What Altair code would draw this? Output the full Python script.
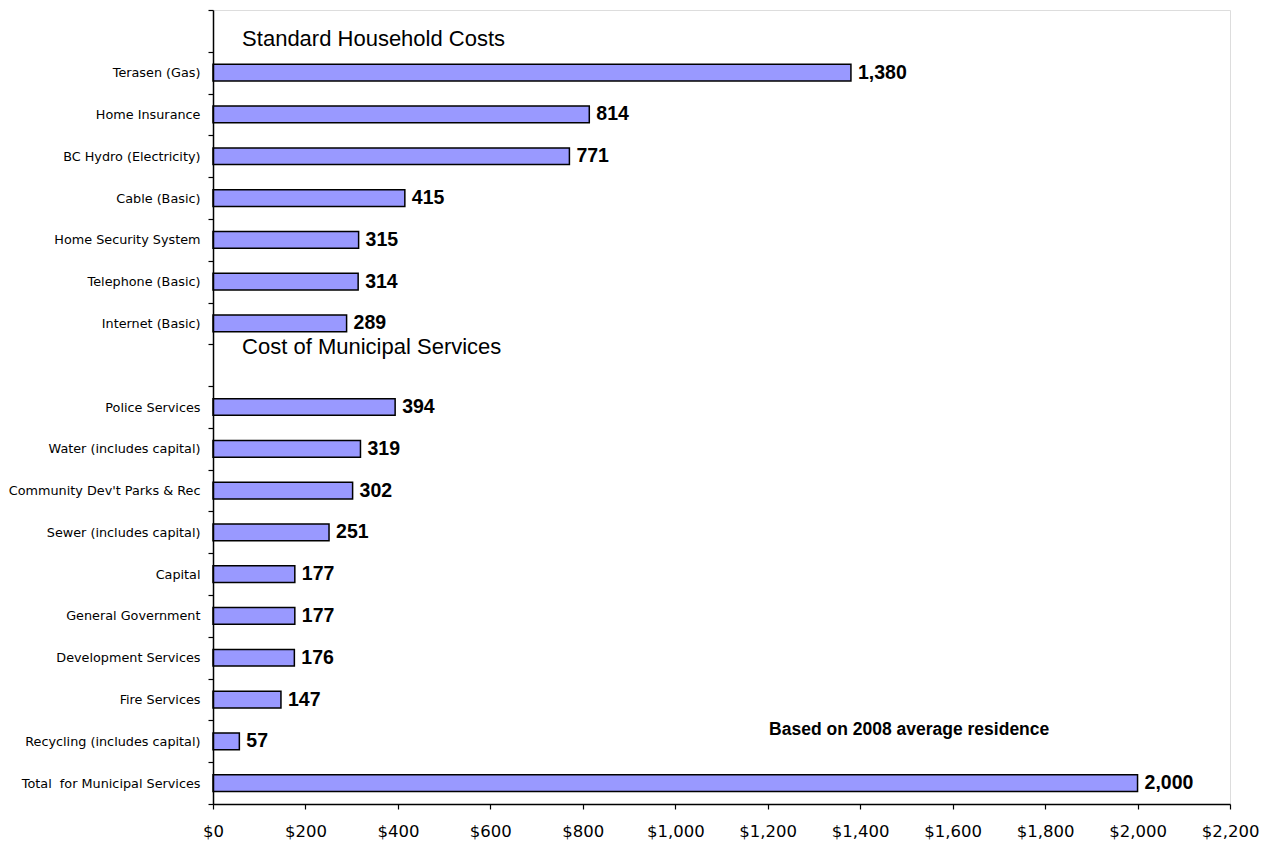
import altair as alt
import pandas as pd

categories = [" ", "Terasen (Gas)", "Home Insurance", "BC Hydro (Electricity)", "Cable (Basic)",
              "Home Security System", "Telephone (Basic)", "Internet (Basic)", "  ",
              "Police Services", "Water (includes capital)", "Community Dev't Parks & Rec",
              "Sewer (includes capital)", "Capital ", "General Government", "Development Services",
              "Fire Services", "Recycling (includes capital)", "Total\u00a0 for Municipal Services"]
values = [None, 1380, 814, 771, 415, 315, 314, 289, None,
          394, 319, 302, 251, 177, 177, 176, 147, 57, 2000]
labels = ["" if v is None else f"{v:,}" for v in values]

notes_text = ["Standard Household Costs", "Cost of Municipal Services", "Based on 2008 average residence"]
notes_cat = [" ", "  ", "Recycling (includes capital)"]
notes_x = [63, 63, 1203]
notes_dy = [8, -18, -11]
notes_size = [22, 22, 17.5]
notes_weight = ["normal", "normal", "bold"]

x_ticks = list(range(0, 2201, 200))

df = pd.DataFrame({"cat": categories, "val": values, "lab": labels})
bars_df = df.dropna()

yenc = alt.Y("cat:N", sort=categories, title=None,
             scale=alt.Scale(domain=categories, paddingInner=0, paddingOuter=0),
             axis=alt.Axis(tickBand="extent", domainColor="black", domainWidth=1.5,
                           tickColor="black", tickSize=5, tickWidth=1.2,
                           labelFont="DejaVu Sans", labelFontSize=12.8, labelColor="black",
                           labelPadding=8, labelLimit=400, zindex=1))
xenc = alt.X("val:Q", title=None,
             scale=alt.Scale(domain=[0, 2200], nice=False),
             axis=alt.Axis(values=x_ticks, format="$,.0f", grid=False, domainColor="black",
                           domainWidth=1.5, tickColor="black", tickSize=5, tickWidth=1.2,
                           labelFont="DejaVu Sans", labelFontSize=16.5, labelColor="black",
                           labelPadding=14, labelFlush=False, zindex=1))

bars = alt.Chart(bars_df).mark_bar(color="#9999FF", stroke="black", strokeWidth=1.5,
                                   height={"band": 0.4}).encode(x=xenc, y=yenc)

text = alt.Chart(bars_df).mark_text(align="left", baseline="middle", dx=7,
                                    font="Liberation Sans", fontWeight="bold", fontSize=19.5,
                                    color="black").encode(
    x=alt.X("val:Q"), y=alt.Y("cat:N", sort=categories), text="lab:N")

layers = [bars, text]
for t, c, xv, dy, sz, w in zip(notes_text, notes_cat, notes_x, notes_dy, notes_size, notes_weight):
    ndf = pd.DataFrame({"cat": [c], "val": [xv], "t": [t]})
    layers.append(alt.Chart(ndf).mark_text(align="left", baseline="middle", dy=dy,
                                           font="Liberation Sans", fontSize=sz, fontWeight=w,
                                           color="black").encode(
        x=alt.X("val:Q"), y=alt.Y("cat:N", sort=categories), text="t:N"))

chart = alt.layer(*layers).properties(
    width=1017, height=794,
    autosize=alt.AutoSizeParams(type="none"),
    padding={"left": 213, "top": 10, "right": 34, "bottom": 40},
).configure_view(stroke="#999999", strokeWidth=2).configure(background="white")

chart.save("out.html", embed_options={"renderer": "svg", "actions": False})
